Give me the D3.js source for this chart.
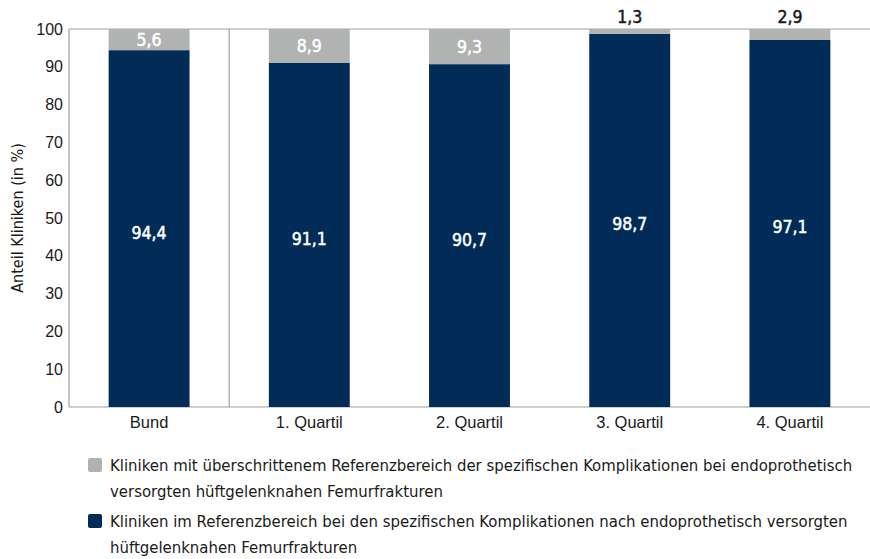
<!DOCTYPE html>
<html lang="de">
<head>
<meta charset="utf-8">
<script src="https://cdn.jsdelivr.net/npm/d3@7"></script>
<style>
  html, body { margin: 0; padding: 0; background: #fff; }
  svg { display: block; font-family: "DejaVu Sans Condensed", "DejaVu Sans", sans-serif; font-stretch: condensed; }
</style>
</head>
<body>
<svg id="chart" width="870" height="559"></svg>
<script>
// Categories and series values (percent of clinics)
const categories = ["Bund", "1. Quartil", "2. Quartil", "3. Quartil", "4. Quartil"];
const inRange = [94.4, 91.1, 90.7, 98.7, 97.1];
const exceeded = [5.6, 8.9, 9.3, 1.3, 2.9];
const yTicks = [0, 10, 20, 30, 40, 50, 60, 70, 80, 90, 100];
const legendItems = [
  { color: "#b1b2b2", lines: ["Kliniken mit überschrittenem Referenzbereich der spezifischen Komplikationen bei endoprothetisch", "versorgten hüftgelenknahen Femurfrakturen"] },
  { color: "#002c57", lines: ["Kliniken im Referenzbereich bei den spezifischen Komplikationen nach endoprothetisch versorgten", "hüftgelenknahen Femurfrakturen"] }
];

const navy = "#002c57", grey = "#b1b2b2", axisGrey = "#a0a0a0", ink = "#1a1a1a";
const svg = d3.select("#chart");
const m = { left: 69, right: 870, top: 29, bottom: 407 };

const x = d3.scaleBand().domain(categories).range([m.left, m.right]).paddingInner(0.495).paddingOuter(0.2475);
const y = d3.scaleLinear().domain([0, 100]).range([m.bottom, m.top]);

// frame lines: top border, left axis, base line, separator after "Bund"
svg.append("line").attr("x1", m.left).attr("x2", m.right).attr("y1", y(100)).attr("y2", y(100))
  .attr("stroke", axisGrey).attr("stroke-width", 1);
svg.append("line").attr("x1", m.left).attr("x2", m.left).attr("y1", y(100)).attr("y2", y(0))
  .attr("stroke", axisGrey).attr("stroke-width", 1.2);
svg.append("line").attr("x1", m.left).attr("x2", m.right).attr("y1", y(0)).attr("y2", y(0))
  .attr("stroke", axisGrey).attr("stroke-width", 1.2);
const step = x.step();
const sepX = x(categories[0]) + x.bandwidth() + (step - x.bandwidth()) / 2;
svg.append("line").attr("x1", sepX).attr("x2", sepX).attr("y1", y(100)).attr("y2", y(0))
  .attr("stroke", axisGrey).attr("stroke-width", 1.2);

// y axis
const yAxis = d3.axisLeft(y).tickValues(yTicks).tickSize(0).tickPadding(6);
const gy = svg.append("g").attr("transform", `translate(${m.left},0)`).call(yAxis);
gy.select(".domain").remove();
gy.selectAll("text").attr("font-size", 16).attr("fill", ink).style("font-family", "inherit");

svg.append("text")
  .attr("transform", `translate(23,${(y(0) + y(100)) / 2}) rotate(-90)`)
  .attr("text-anchor", "middle").attr("font-size", 16).attr("fill", ink)
  .text("Anteil Kliniken (in %)");

// x axis labels
const xAxis = d3.axisBottom(x).tickSize(0).tickPadding(9);
const gx = svg.append("g").attr("transform", `translate(0,${m.bottom})`).call(xAxis);
gx.select(".domain").remove();
gx.selectAll("text").attr("font-size", 16.5).attr("fill", ink).style("font-family", "inherit");

const fmt = v => d3.format(".1f")(v).replace(".", ",");

// stacked bars
const bars = svg.append("g");
categories.forEach((c, i) => {
  bars.append("rect").attr("x", x(c)).attr("width", x.bandwidth())
    .attr("y", y(inRange[i])).attr("height", y(0) - y(inRange[i])).attr("fill", navy);
  bars.append("rect").attr("x", x(c)).attr("width", x.bandwidth())
    .attr("y", y(inRange[i] + exceeded[i])).attr("height", y(inRange[i]) - y(inRange[i] + exceeded[i])).attr("fill", grey);

  // value labels
  svg.append("text").attr("x", x(c) + x.bandwidth() / 2).attr("y", y(inRange[i] / 2) + 10)
    .attr("text-anchor", "middle").attr("font-size", 17.5).attr("fill", "#fff")
    .attr("stroke", "#fff").attr("stroke-width", 0.5)
    .text(fmt(inRange[i]));
  const small = exceeded[i] < 4;
  const col = small ? ink : "#fff";
  svg.append("text").attr("x", x(c) + x.bandwidth() / 2)
    .attr("y", small ? y(100) - 6 : y(inRange[i] + exceeded[i] / 2) + 6)
    .attr("text-anchor", "middle").attr("font-size", 17.5)
    .attr("fill", col).attr("stroke", col).attr("stroke-width", 0.5)
    .text(fmt(exceeded[i]));
});

// legend
const lg = svg.append("g");
legendItems.forEach((it, i) => {
  const top = 458 + i * 56;
  lg.append("rect").attr("x", 88).attr("y", top).attr("width", 14).attr("height", 14).attr("rx", 2)
    .attr("fill", it.color);
  it.lines.forEach((ln, j) => {
    lg.append("text").attr("x", 110).attr("y", top + 13 + j * 26).attr("font-size", 16.6)
      .attr("fill", ink).text(ln);
  });
});
</script>
</body>
</html>
